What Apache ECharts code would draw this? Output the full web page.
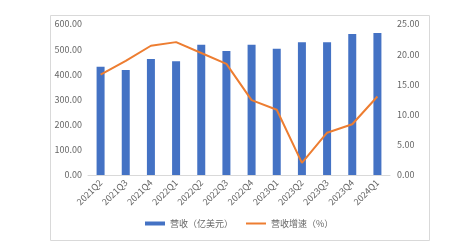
<!DOCTYPE html>
<html><head><meta charset="utf-8">
<script src="https://cdn.jsdelivr.net/npm/echarts@6/dist/echarts.min.js"></script>
<style>html,body{margin:0;padding:0;background:#fff;}#c{width:474px;height:252px;}</style>
</head><body><div id="c"></div>
<script>
const categories = ['2021Q2','2021Q3','2021Q4','2022Q1','2022Q2','2022Q3','2022Q4','2023Q1','2023Q2','2023Q3','2023Q4','2024Q1'];
const revenue = [430, 417, 461, 452, 518, 493, 518, 502, 527, 527, 560, 564];
const growth = [16.6, 18.9, 21.4, 22.0, 20.2, 18.4, 12.4, 10.8, 2.0, 7.0, 8.4, 13.0];
const leftTicks = {min: 0, max: 600, interval: 100};
const rightTicks = {min: 0, max: 25, interval: 5};
const names = ['营收（亿美元）', '营收增速（%）'];

const font = '"Noto Sans CJK SC", "Noto Sans", sans-serif';
const labelColor = '#666666';
const chart = echarts.init(document.getElementById('c'));
chart.setOption({
  animation: false,
  textStyle: {fontFamily: font},
  graphic: [{
    type: 'rect', left: 48, top: 13,
    shape: {width: 379, height: 225},
    style: {fill: 'none', stroke: '#d9d9d9', lineWidth: 1}
  }],
  grid: {left: 88, right: 84, top: 24, bottom: 77},
  legend: [{
    left: 145, top: 219, itemWidth: 20, itemHeight: 4, padding: 0,
    textStyle: {fontSize: 9, color: labelColor, fontFamily: font},
    data: [{name: names[0], icon: 'rect'}]
  }, {
    left: 246, top: 219, itemWidth: 20, itemHeight: 2, padding: 0,
    textStyle: {fontSize: 9, color: labelColor, fontFamily: font},
    data: [{name: names[1], icon: 'rect'}]
  }],
  xAxis: {
    type: 'category', data: categories,
    axisLine: {lineStyle: {color: '#d9d9d9'}},
    axisTick: {show: false},
    axisLabel: {rotate: 45, fontSize: 9, color: labelColor, margin: 6, interval: 0}
  },
  yAxis: [{
    type: 'value', min: leftTicks.min, max: leftTicks.max, interval: leftTicks.interval,
    splitLine: {show: false}, axisLine: {show: false}, axisTick: {show: false},
    axisLabel: {fontSize: 9, color: labelColor, margin: 6, formatter: v => v.toFixed(2)}
  }, {
    type: 'value', min: rightTicks.min, max: rightTicks.max, interval: rightTicks.interval,
    splitLine: {show: false}, axisLine: {show: false}, axisTick: {show: false},
    axisLabel: {fontSize: 9, color: labelColor, margin: 7, formatter: v => v.toFixed(2)}
  }],
  series: [{
    name: names[0], type: 'bar', data: revenue, barWidth: 8,
    itemStyle: {color: '#4472C4'}
  }, {
    name: names[1], type: 'line', yAxisIndex: 1, data: growth,
    symbol: 'none', lineStyle: {color: '#ED7D31', width: 2}, itemStyle: {color: '#ED7D31'}
  }]
});
</script></body></html>
